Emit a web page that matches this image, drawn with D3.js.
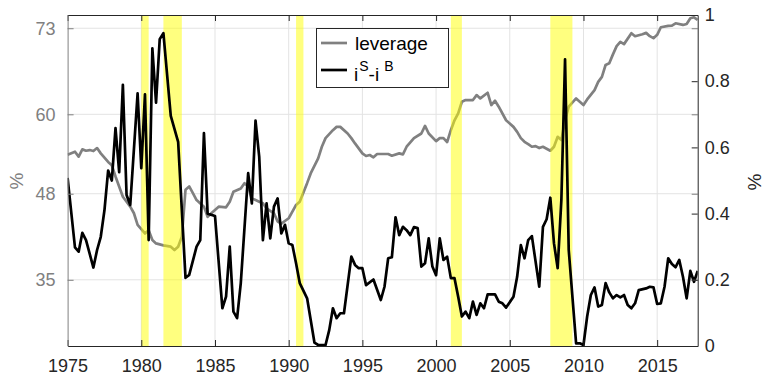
<!DOCTYPE html>
<html>
<head>
<meta charset="utf-8">
<script src="https://cdn.jsdelivr.net/npm/d3@7"></script>
<style>
  body { margin: 0; background: #fff; }
  text { font-family: "Liberation Sans", Arial, Helvetica, sans-serif; }
</style>
</head>
<body>
<svg id="chart" width="766" height="375"></svg>
<script>
// NBER recessions (shaded)
var recessionStarts = [1980.0, 1981.5, 1990.5, 2001.0, 2007.75];
var recessionEnds = [1980.5, 1982.75, 1991.0, 2001.75, 2009.25];

// leverage, left axis (%)
var leverageDates = [1975, 1975.5, 1975.75, 1976, 1976.25, 1976.5, 1976.75, 1977, 1977.25, 1977.75,
    1978, 1978.25, 1978.75, 1979, 1979.25, 1979.5, 1979.75, 1980.25, 1980.5, 1980.75,
    1981, 1981.5, 1982, 1982.25, 1982.5, 1982.75, 1983, 1983.25, 1983.5, 1983.75,
    1984.25, 1984.5, 1984.75, 1985, 1985.25, 1985.75, 1986, 1986.25, 1986.75, 1987,
    1987.25, 1987.5, 1988, 1988.25, 1988.5, 1989, 1989.25, 1989.5, 1990, 1990.25,
    1990.5, 1990.75, 1991.25, 1991.5, 1992, 1992.25, 1992.5, 1993, 1993.25, 1993.5,
    1994, 1994.25, 1994.5, 1995, 1995.25, 1995.5, 1995.75, 1996, 1996.75, 1997,
    1997.5, 1997.75, 1998, 1998.5, 1999, 1999.25, 1999.5, 2000, 2000.25, 2000.5,
    2000.75, 2001, 2001.25, 2001.5, 2001.75, 2002, 2002.5, 2002.75, 2003, 2003.5,
    2003.75, 2004, 2004.25, 2004.75, 2005.25, 2005.5, 2005.75, 2006, 2006.25, 2006.5,
    2006.75, 2007, 2007.25, 2007.75, 2008, 2008.25, 2008.5, 2008.75, 2009, 2009.5,
    2009.75, 2010, 2010.25, 2010.75, 2011, 2011.25, 2011.5, 2011.75, 2012, 2012.25,
    2012.5, 2012.75, 2013.25, 2013.5, 2014, 2014.25, 2014.5, 2014.75, 2015, 2015.25,
    2015.75, 2016, 2016.25, 2016.75, 2017, 2017.25, 2017.5, 2017.75];
var leverageValues = [53.9, 54.35, 53.6, 54.7, 54.5, 54.6, 54.45, 54.9, 54.1, 52.8,
    52.3, 50.6, 47.55, 46.8, 46.05, 45.05, 43.3, 42.0, 42.5, 41.0,
    40.5, 40.2, 40.0, 39.5, 40.0, 41.5, 48.6, 49.1, 48.1, 47.05,
    46.05, 44.5, 45.05, 45.55, 46.05, 45.95, 46.8, 48.3, 48.8, 49.6,
    49.1, 47.3, 46.8, 46.55, 45.8, 45.05, 43.8, 43.5, 44.3, 45.3,
    46.3, 46.8, 49.6, 51.1, 53.35, 55.1, 56.4, 57.6, 58.1, 58.1,
    57.1, 56.4, 55.6, 54.1, 53.7, 53.85, 53.5, 54.0, 54.0, 53.75,
    54.1, 53.95, 55.1, 56.4, 57.1, 58.25, 57.1, 55.95, 56.4, 56.4,
    55.8, 57.6, 59.1, 60.15, 61.9, 62.15, 62.15, 62.9, 62.4, 63.25,
    61.4, 62.05, 61.15, 59.1, 58.1, 57.35, 56.4, 55.85, 55.5, 55.1,
    55.2, 54.9, 55.1, 54.5, 55.1, 56.6, 56.1, 59.1, 61.15, 62.4,
    61.9, 61.4, 62.25, 63.65, 64.9, 65.65, 67.45, 67.7, 69.05, 70.3,
    70.95, 70.6, 72.25, 71.8, 72.1, 72.3, 71.8, 71.5, 72.0, 73.15,
    73.35, 73.4, 73.75, 73.5, 73.65, 74.5, 74.65, 74.25];

// i^S - i^B spread, right axis (%)
var spreadDates = [1975, 1975.5, 1975.75, 1976, 1976.25, 1976.75, 1977, 1977.25, 1977.5, 1977.75,
    1978, 1978.25, 1978.5, 1978.75, 1979, 1979.25, 1979.75, 1980, 1980.25, 1980.5,
    1980.75, 1981, 1981.25, 1981.5, 1982, 1982.5, 1983, 1983.25, 1983.75, 1984,
    1984.25, 1984.5, 1985, 1985.5, 1985.75, 1986, 1986.25, 1986.5, 1986.75, 1987.25,
    1987.5, 1987.75, 1988, 1988.25, 1988.5, 1988.75, 1989, 1989.25, 1989.5, 1989.75,
    1990, 1990.25, 1990.5, 1990.75, 1991.25, 1991.75, 1992, 1992.5, 1992.75, 1993,
    1993.25, 1993.5, 1993.75, 1994.25, 1994.5, 1994.75, 1995, 1995.25, 1995.75, 1996.25,
    1996.5, 1996.75, 1997, 1997.25, 1997.5, 1997.75, 1998, 1998.25, 1998.5, 1998.75,
    1999, 1999.25, 1999.5, 1999.75, 2000, 2000.25, 2000.5, 2000.75, 2001, 2001.25,
    2001.5, 2001.75, 2002, 2002.25, 2002.5, 2002.75, 2003, 2003.25, 2003.5, 2004,
    2004.25, 2004.5, 2004.75, 2005.25, 2005.5, 2005.75, 2006, 2006.25, 2006.5, 2007,
    2007.25, 2007.5, 2007.75, 2008, 2008.25, 2008.5, 2008.75, 2009, 2009.5, 2009.75,
    2010, 2010.25, 2010.5, 2010.75, 2011, 2011.25, 2011.5, 2011.75, 2012, 2012.25,
    2012.5, 2012.75, 2013, 2013.25, 2013.5, 2013.75, 2014.25, 2014.5, 2014.75, 2015,
    2015.25, 2015.5, 2015.75, 2016, 2016.25, 2016.5, 2016.75, 2017, 2017.25, 2017.5,
    2017.75];
var spreadValues = [0.508, 0.298, 0.285, 0.342, 0.32, 0.237, 0.29, 0.33, 0.41, 0.53,
    0.50, 0.658, 0.525, 0.789, 0.456, 0.426, 0.763, 0.537, 0.76, 0.32,
    0.899, 0.735, 0.927, 0.945, 0.695, 0.617, 0.206, 0.215, 0.30, 0.32,
    0.643, 0.40, 0.393, 0.114, 0.149, 0.30, 0.104, 0.084, 0.19, 0.522,
    0.431, 0.681, 0.572, 0.32, 0.431, 0.325, 0.421, 0.446, 0.34, 0.366,
    0.31, 0.305, 0.25, 0.19, 0.144, 0.01, 0.003, 0.003, 0.048, 0.114,
    0.084, 0.099, 0.099, 0.27, 0.245, 0.235, 0.235, 0.184, 0.201, 0.139,
    0.179, 0.265, 0.268, 0.389, 0.335, 0.36, 0.35, 0.335, 0.359, 0.356,
    0.24, 0.25, 0.325, 0.24, 0.214, 0.325, 0.26, 0.27, 0.205, 0.205,
    0.149, 0.089, 0.104, 0.084, 0.134, 0.094, 0.129, 0.114, 0.156, 0.156,
    0.134, 0.129, 0.116, 0.149, 0.209, 0.305, 0.265, 0.32, 0.332, 0.179,
    0.36, 0.383, 0.448, 0.31, 0.235, 0.441, 0.866, 0.29, 0.008, 0.008,
    0.003, 0.089, 0.154, 0.177, 0.119, 0.124, 0.19, 0.162, 0.144, 0.154,
    0.147, 0.154, 0.124, 0.114, 0.129, 0.169, 0.174, 0.179, 0.177, 0.127,
    0.129, 0.179, 0.265, 0.248, 0.238, 0.26, 0.209, 0.144, 0.227, 0.194,
    0.227];

var yearTicks = [1975, 1980, 1985, 1990, 1995, 2000, 2005, 2010, 2015];
var leftTicks = [35, 48, 60, 73];
var rightTicks = [0, 0.2, 0.4, 0.6, 0.8, 1];

var svg = d3.select("#chart");
var plotLeft = 67.6, plotRight = 697.7, plotTop = 15, plotBottom = 346;
var gray = "#808080", dark = "#262626";

var xScale = d3.scaleLinear().domain([1975, 2017.75]).range([plotLeft, plotRight]);
var yLeft = d3.scaleLinear().domain([25, 75]).range([plotBottom, plotTop]);
var yRight = d3.scaleLinear().domain([0, 1]).range([plotBottom, plotTop]);

svg.append("defs").append("clipPath").attr("id", "plot-clip")
    .append("rect")
    .attr("x", plotLeft).attr("y", plotTop)
    .attr("width", plotRight - plotLeft).attr("height", plotBottom - plotTop);

// grid
svg.append("g").selectAll("line")
    .data(yearTicks.slice(1))
    .enter().append("line")
    .attr("x1", function(d) { return xScale(d); })
    .attr("x2", function(d) { return xScale(d); })
    .attr("y1", plotTop).attr("y2", plotBottom)
    .attr("stroke", "#e3e3e3").attr("stroke-width", 1);

svg.append("g").selectAll("line")
    .data(leftTicks)
    .enter().append("line")
    .attr("x1", plotLeft).attr("x2", plotRight)
    .attr("y1", function(d) { return yLeft(d); })
    .attr("y2", function(d) { return yLeft(d); })
    .attr("stroke", "#e3e3e3").attr("stroke-width", 1);

var plot = svg.append("g").attr("clip-path", "url(#plot-clip)");

// leverage first, the shading sits on it
var leverageLine = d3.line()
    .x(function(d, i) { return xScale(leverageDates[i]); })
    .y(function(d) { return yLeft(d); });

plot.append("path")
    .datum(leverageValues)
    .attr("fill", "none")
    .attr("stroke", gray)
    .attr("stroke-width", 2.7)
    .attr("stroke-linejoin", "round")
    .attr("d", leverageLine);

plot.selectAll(".recession")
    .data(recessionStarts)
    .enter().append("rect")
    .attr("class", "recession")
    .attr("x", function(d) { return xScale(d); })
    .attr("width", function(d, i) { return xScale(recessionEnds[i]) - xScale(d); })
    .attr("y", plotTop).attr("height", plotBottom - plotTop)
    .attr("fill", "#ffff00").attr("fill-opacity", 0.5);

var spreadLine = d3.line()
    .x(function(d, i) { return xScale(spreadDates[i]); })
    .y(function(d) { return yRight(d); });

plot.append("path")
    .datum(spreadValues)
    .attr("fill", "none")
    .attr("stroke", "#000")
    .attr("stroke-width", 2.7)
    .attr("stroke-linejoin", "round")
    .attr("d", spreadLine);

// axes (ticks point inward)
function styleAxis(g, color, size) {
    g.selectAll("path").attr("stroke", color).attr("stroke-width", 1);
    g.selectAll("line").attr("stroke", color);
    g.selectAll("text").attr("fill", color).style("font-size", size + "px")
        .style("font-family", '"Liberation Sans", Arial, sans-serif');
}

var xAxis = svg.append("g")
    .attr("transform", "translate(0," + plotBottom + ")")
    .call(d3.axisBottom(xScale).tickValues(yearTicks).tickFormat(d3.format("d"))
        .tickSizeInner(-6).tickSizeOuter(0).tickPadding(13));
styleAxis(xAxis, dark, 18);

var topAxis = svg.append("g")
    .attr("transform", "translate(0," + plotTop + ")")
    .call(d3.axisTop(xScale).tickValues(yearTicks).tickFormat("")
        .tickSizeInner(-6).tickSizeOuter(0));
styleAxis(topAxis, dark, 18);

var leftAxis = svg.append("g")
    .attr("transform", "translate(" + plotLeft + ",0)")
    .call(d3.axisLeft(yLeft).tickValues(leftTicks)
        .tickSizeInner(-6).tickSizeOuter(0).tickPadding(12));
styleAxis(leftAxis, gray, 18);

var mirrorAxis = svg.append("g")
    .attr("transform", "translate(" + plotRight + ",0)")
    .call(d3.axisRight(yLeft).tickValues(leftTicks).tickFormat("")
        .tickSizeInner(-6).tickSizeOuter(0));
styleAxis(mirrorAxis, gray, 18);
mirrorAxis.select(".domain").remove();

var rightAxis = svg.append("g")
    .attr("transform", "translate(" + plotRight + ",0)")
    .call(d3.axisRight(yRight).tickValues(rightTicks).tickFormat(function(d) { return d; })
        .tickSizeInner(-6).tickSizeOuter(0).tickPadding(7));
styleAxis(rightAxis, dark, 18);

// axis titles
svg.append("text")
    .attr("transform", "translate(23,181) rotate(-90)")
    .attr("text-anchor", "middle")
    .attr("fill", gray)
    .style("font-size", "19px")
    .text("%");

svg.append("text")
    .attr("transform", "translate(761,182) rotate(-90)")
    .attr("text-anchor", "middle")
    .attr("fill", dark)
    .style("font-size", "19px")
    .text("%");

// legend
var legend = svg.append("g").attr("class", "legend");

legend.append("rect")
    .attr("x", 316.5).attr("y", 28.5)
    .attr("width", 132).attr("height", 59)
    .attr("fill", "#fff").attr("stroke", dark).attr("stroke-width", 1);

legend.append("line")
    .attr("x1", 321).attr("x2", 347).attr("y1", 43).attr("y2", 43)
    .attr("stroke", gray).attr("stroke-width", 2.7);

legend.append("text")
    .attr("x", 355).attr("y", 50)
    .attr("fill", "#000")
    .style("font-size", "19px")
    .text("leverage");

legend.append("line")
    .attr("x1", 321).attr("x2", 347).attr("y1", 70).attr("y2", 70)
    .attr("stroke", "#000").attr("stroke-width", 2.7);

var spreadLabel = legend.append("text")
    .attr("x", 354).attr("y", 81)
    .attr("fill", "#000")
    .style("font-size", "19px");
spreadLabel.append("tspan").text("i");
spreadLabel.append("tspan").attr("dy", -10).attr("dx", 1).style("font-size", "14px").text("S");
spreadLabel.append("tspan").attr("dy", 10).text("-i");
spreadLabel.append("tspan").attr("dy", -10).attr("dx", 5).style("font-size", "14px").text("B");
</script>
</body>
</html>
